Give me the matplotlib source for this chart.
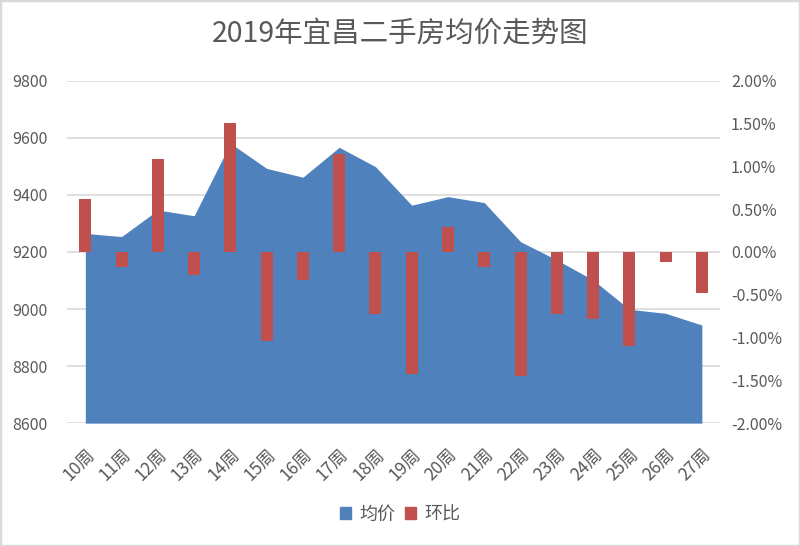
import numpy as np
import matplotlib.pyplot as plt
from matplotlib.patches import Rectangle
from matplotlib.ticker import FuncFormatter

plt.rcParams['font.family'] = ['Noto Sans CJK SC', 'DejaVu Sans']

weeks = ['10周', '11周', '12周', '13周', '14周', '15周', '16周', '17周', '18周',
         '19周', '20周', '21周', '22周', '23周', '24周', '25周', '26周', '27周']
avg_price = [9265, 9254, 9347, 9327, 9581, 9493, 9462, 9567, 9499,
             9364, 9394, 9373, 9236, 9172, 9102, 8999, 8985, 8944]
mom_pct = [0.62, -0.17, 1.09, -0.27, 1.51, -1.04, -0.33, 1.15, -0.73,
           -1.43, 0.29, -0.17, -1.45, -0.73, -0.78, -1.10, -0.12, -0.48]

BLUE = '#4f81bd'
RED = '#c0504d'
GRID = '#d9d9d9'
TXT = '#595959'

fig = plt.figure(figsize=(8, 5.46), dpi=100)
fig.patches.append(Rectangle((0, 0), 1, 1, transform=fig.transFigure,
                             fill=False, edgecolor='#d9d9d9', linewidth=2.5))

ax = fig.add_axes([0.084, 0.225, 0.816, 0.627])
x = np.arange(len(weeks))
ax.fill_between(x, avg_price, 8600, color=BLUE, linewidth=0, zorder=2)
ax.set_ylim(8600, 9800)
ax.set_yticks(np.arange(8600, 9801, 200))
ax.set_xlim(-0.5, len(weeks) - 0.5)
ax.grid(axis='y', color=GRID, linewidth=1.2, zorder=0)
ax.set_axisbelow(True)
for s in ax.spines.values():
    s.set_visible(False)
ax.tick_params(axis='both', length=0, colors=TXT, labelsize=11.5)
ax.tick_params(axis='y', pad=14)
ax.set_xticks(x)
ax.set_xticklabels(weeks, rotation=45, ha='right', rotation_mode='anchor')
ax.tick_params(axis='x', pad=16, labelsize=12.5)

ax2 = ax.twinx()
ax2.bar(x, mom_pct, width=0.33, color=RED, zorder=3)
ax2.set_ylim(-2.0, 2.0)
ax2.set_yticks(np.arange(-2.0, 2.01, 0.5))
ax2.yaxis.set_major_formatter(FuncFormatter(lambda v, p: f'{v:.2f}%'))
for s in ax2.spines.values():
    s.set_visible(False)
ax2.tick_params(axis='y', length=0, colors=TXT, labelsize=11.5, pad=8)

fig.text(0.5, 0.938, '2019年宜昌二手房均价走势图', ha='center', va='center',
         fontsize=20.5, color=TXT)

h1 = Rectangle((0, 0), 1, 1, color=BLUE)
h2 = Rectangle((0, 0), 1, 1, color=RED)
fig.legend([h1, h2], ['均价', '环比'], loc='center', bbox_to_anchor=(0.5, 0.058),
           ncol=2, frameon=False, fontsize=13, handlelength=0.65, handleheight=0.65,
           handletextpad=0.45, columnspacing=0.5, labelcolor=TXT)

fig.savefig('out.png', dpi=100)
